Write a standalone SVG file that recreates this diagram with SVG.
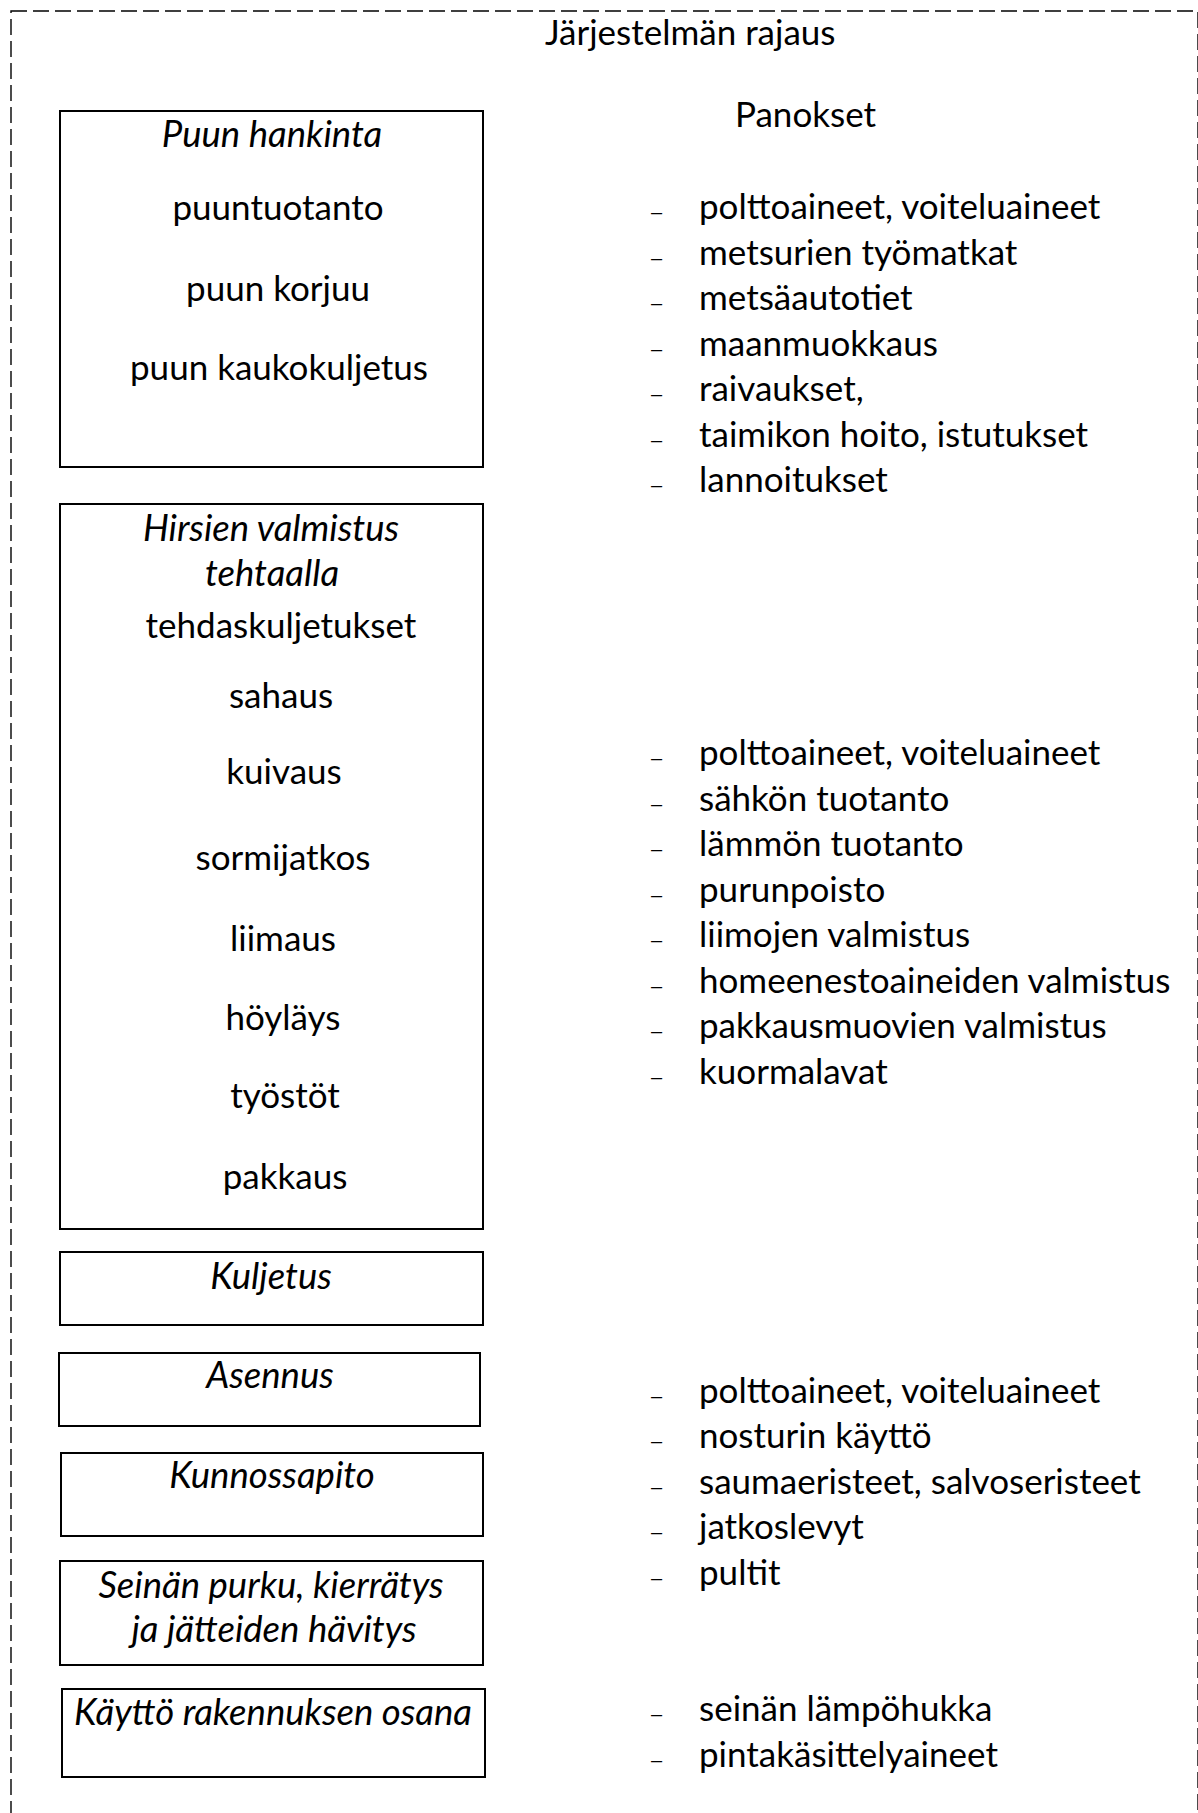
<svg xmlns="http://www.w3.org/2000/svg" width="1198" height="1813" viewBox="0 0 1198 1813">
<style>
  .bg{fill:#ffffff}
  .frame{fill:none;stroke:#000;stroke-width:1.4;stroke-dasharray:16 6}
  .box{fill:#fff;stroke:#000;stroke-width:2}
  text{font-family:Lato,"Liberation Sans",sans-serif;font-size:35px;fill:#000}
  .t{font-style:italic;font-size:36.5px;text-anchor:middle}
  .c{text-anchor:middle}
  .d{font-family:"Liberation Sans",Arial,sans-serif;font-size:20px}
</style>
<rect class="bg" x="0" y="0" width="1198" height="1813"/>
<rect id="boundary" class="frame" x="11" y="11" width="1187" height="1850"/>
<text id="title" x="545" y="45">Järjestelmän rajaus</text>

<g id="connectors"></g>

<g id="node-puun-hankinta">
  <rect class="box" x="60" y="111" width="423" height="356"/>
  <text class="t" x="272" y="147">Puun hankinta</text>
  <text class="c" x="278" y="220">puuntuotanto</text>
  <text class="c" x="278" y="301">puun korjuu</text>
  <text class="c" x="279" y="380">puun kaukokuljetus</text>
</g>

<g id="node-hirsien-valmistus">
  <rect class="box" x="60" y="504" width="423" height="725"/>
  <text class="t" x="271" y="541">Hirsien valmistus</text>
  <text class="t" x="272" y="586">tehtaalla</text>
  <text class="c" x="281" y="638">tehdaskuljetukset</text>
  <text class="c" x="281" y="708">sahaus</text>
  <text class="c" x="284" y="784">kuivaus</text>
  <text class="c" x="283" y="870">sormijatkos</text>
  <text class="c" x="283" y="951">liimaus</text>
  <text class="c" x="283" y="1030">höyläys</text>
  <text class="c" x="285" y="1108">työstöt</text>
  <text class="c" x="285" y="1189">pakkaus</text>
</g>

<g id="node-kuljetus">
  <rect class="box" x="60" y="1252" width="423" height="73"/>
  <text class="t" x="271" y="1289">Kuljetus</text>
</g>

<g id="node-asennus">
  <rect class="box" x="59" y="1353" width="421" height="73"/>
  <text class="t" x="270" y="1388">Asennus</text>
</g>

<g id="node-kunnossapito">
  <rect class="box" x="61" y="1453" width="422" height="83"/>
  <text class="t" x="272" y="1488">Kunnossapito</text>
</g>

<g id="node-purku">
  <rect class="box" x="60" y="1561" width="423" height="104"/>
  <text class="t" x="271" y="1598">Seinän purku, kierrätys</text>
  <text class="t" x="274" y="1642">ja jätteiden hävitys</text>
</g>

<g id="node-kaytto">
  <rect class="box" x="62" y="1689" width="423" height="88"/>
  <text class="t" x="273" y="1725">Käyttö rakennuksen osana</text>
</g>

<g id="panokset">
  <text x="735" y="127">Panokset</text>
</g>

<g id="list-1">
  <text class="d" x="651" y="219">–</text><text x="699" y="219">polttoaineet, voiteluaineet</text>
  <text class="d" x="651" y="264.5">–</text><text x="699" y="264.5">metsurien työmatkat</text>
  <text class="d" x="651" y="310">–</text><text x="699" y="310">metsäautotiet</text>
  <text class="d" x="651" y="355.5">–</text><text x="699" y="355.5">maanmuokkaus</text>
  <text class="d" x="651" y="401">–</text><text x="699" y="401">raivaukset,</text>
  <text class="d" x="651" y="446.5">–</text><text x="699" y="446.5">taimikon hoito, istutukset</text>
  <text class="d" x="651" y="492">–</text><text x="699" y="492">lannoitukset</text>
</g>

<g id="list-2">
  <text class="d" x="651" y="765">–</text><text x="699" y="765">polttoaineet, voiteluaineet</text>
  <text class="d" x="651" y="810.5">–</text><text x="699" y="810.5">sähkön tuotanto</text>
  <text class="d" x="651" y="856">–</text><text x="699" y="856">lämmön tuotanto</text>
  <text class="d" x="651" y="901.5">–</text><text x="699" y="901.5">purunpoisto</text>
  <text class="d" x="651" y="947">–</text><text x="699" y="947">liimojen valmistus</text>
  <text class="d" x="651" y="992.5">–</text><text x="699" y="992.5">homeenestoaineiden valmistus</text>
  <text class="d" x="651" y="1038">–</text><text x="699" y="1038">pakkausmuovien valmistus</text>
  <text class="d" x="651" y="1083.5">–</text><text x="699" y="1083.5">kuormalavat</text>
</g>

<g id="list-3">
  <text class="d" x="651" y="1402.5">–</text><text x="699" y="1402.5">polttoaineet, voiteluaineet</text>
  <text class="d" x="651" y="1448">–</text><text x="699" y="1448">nosturin käyttö</text>
  <text class="d" x="651" y="1493.5">–</text><text x="699" y="1493.5">saumaeristeet, salvoseristeet</text>
  <text class="d" x="651" y="1539">–</text><text x="699" y="1539">jatkoslevyt</text>
  <text class="d" x="651" y="1584.5">–</text><text x="699" y="1584.5">pultit</text>
</g>

<g id="list-4">
  <text class="d" x="651" y="1721">–</text><text x="699" y="1721">seinän lämpöhukka</text>
  <text class="d" x="651" y="1766.5">–</text><text x="699" y="1766.5">pintakäsittelyaineet</text>
</g>
</svg>
